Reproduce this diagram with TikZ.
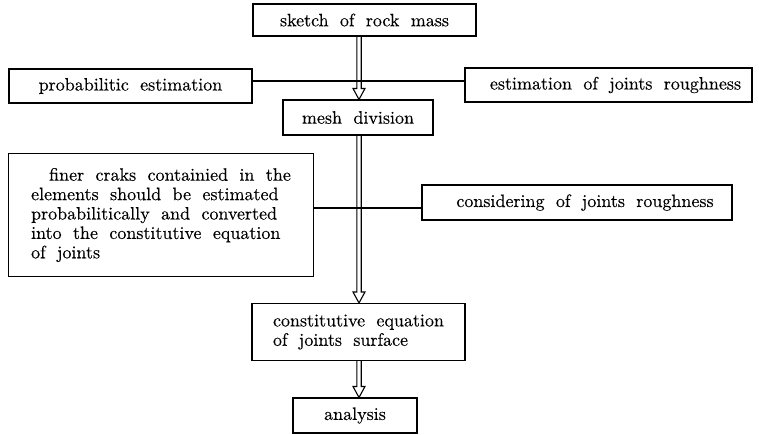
\documentclass[tikz,border=0pt]{standalone}
\usepackage{fontspec}
\setmainfont{lmroman10-regular.otf}[WordSpace=1.9, FakeBold=0.3]
\usetikzlibrary{calc}
\newcommand\hollowarrow[2]{%
  \draw[hollow] ($(#1.south -| ax)+(-2.2,0)$) -- ($(#2.north -| ax)+(-2.2,-11)$)
    -- ($(#2.north -| ax)+(-6,-11)$) -- (#2.north -| ax) -- ($(#2.north -| ax)+(6,-11)$)
    -- ($(#2.north -| ax)+(2.2,-11)$) -- ($(#1.south -| ax)+(2.2,0)$);}
\begin{document}
\begin{tikzpicture}[x=1pt,y=-1pt,
  box/.style={draw, line width=1.1pt, inner sep=0pt, font=\fontsize{18}{19.4}\selectfont},
  link/.style={line width=1.8pt},
  hollow/.style={line width=1.1pt, line join=miter}]
\useasboundingbox (0,0) rectangle (759,434);
\coordinate (ax) at (359,0);
\node[box, minimum width=223pt, minimum height=32pt] (top) at (364.5,20) {sketch of rock mass};
\node[box, minimum width=243pt, minimum height=34pt] (prob) at (130.5,86) {probabilitic estimation};
\node[box, minimum width=287pt, minimum height=34pt] (rough) at (608.5,85) {\hspace*{14pt}estimation of joints roughness};
\node[box, minimum width=150pt, minimum height=35pt] (mesh) at (358,117.5) {mesh division};
\node[box, minimum width=305pt, minimum height=123pt, align=left] (big) at (161,215)
  {\hspace*{18pt}finer craks containied in the\\elements should be estimated\\probabilitically and converted\\into the constitutive equation\\of joints};
\node[box, minimum width=310pt, minimum height=35pt] (consid) at (577,202.5) {\hspace*{16pt}considering of joints roughness};
\node[box, minimum width=213pt, minimum height=57pt, align=left] (const) at (358.5,332) {constitutive equation\\of joints surface};
\node[box, minimum width=124pt, minimum height=35pt] (ana) at (355,415.5) {analysis};
\hollowarrow{top}{mesh}
\hollowarrow{mesh}{const}
\hollowarrow{const}{ana}
\coordinate (l1) at (0,81);
\coordinate (l2) at (0,208);
\draw[link] (prob.east |- l1) -- (rough.west |- l1);
\draw[link] (big.east |- l2) -- (consid.west |- l2);
\end{tikzpicture}
\end{document}
